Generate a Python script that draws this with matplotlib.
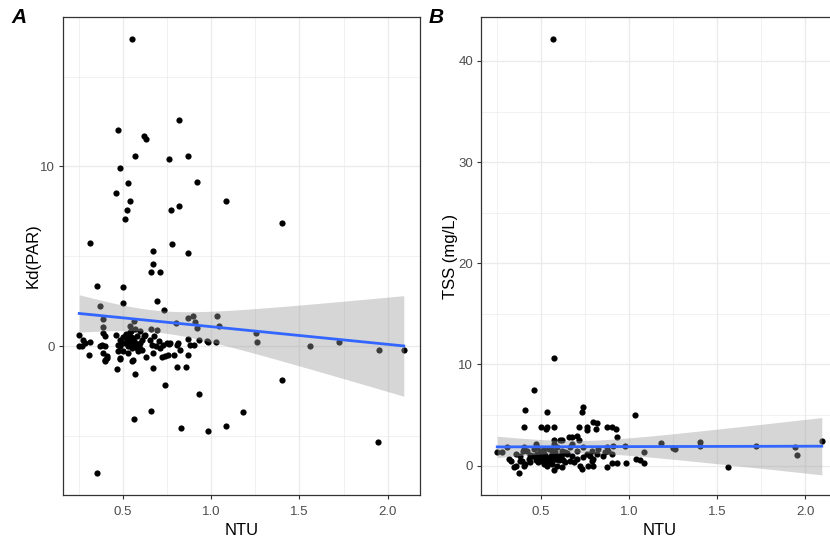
import numpy as np
import matplotlib
matplotlib.use("Agg")
import matplotlib.pyplot as plt
from matplotlib.ticker import FixedLocator

plt.rcParams['font.family'] = ['Liberation Sans', 'DejaVu Sans']

# ---------------- Panel A data: NTU vs Kd(PAR) ----------------
ntu_a = [0.551, 0.82, 0.472, 0.62, 0.632, 0.571, 0.762, 0.871, 0.483, 0.532,
         0.922, 0.462, 0.541, 1.083, 0.523, 0.773, 0.82, 0.513, 1.402, 0.313,
         0.672, 0.781, 0.871, 0.673, 0.66, 0.711, 0.353, 0.502, 0.502, 0.692,
         0.371, 0.734,
         0.39, 0.39, 0.564, 0.541, 0.57, 0.802, 0.871, 0.9, 0.909, 0.922,
         1.032, 1.044, 1.253, 1.262, 1.562, 1.723, 1.951, 2.091, 0.981, 0.934,
         0.902, 0.871, 0.871, 0.881, 0.806, 0.815, 0.824, 0.792, 0.753, 0.723,
         0.74, 0.764, 0.749, 0.73, 0.711, 0.702, 0.688, 0.679, 0.66, 0.692,
         0.626, 0.617, 0.655, 0.664, 0.67, 0.632, 0.673, 0.804, 0.855, 0.469,
         0.571, 0.483, 0.401, 0.409, 0.39, 0.311, 0.253, 0.253, 0.277, 0.268,
         0.287, 0.315, 0.371, 0.381, 0.4, 0.39, 0.4, 0.409, 0.4, 0.462,
         0.485, 0.503, 0.513, 0.523, 0.532, 0.541, 0.551, 0.56, 0.57, 0.579,
         0.588, 0.598, 0.608, 0.598, 0.485, 0.475, 0.475, 0.485, 0.56, 0.553,
         0.532, 0.503, 0.768, 0.976, 1.03, 0.532, 0.547,
         0.52, 0.545, 0.58, 0.565, 0.59, 0.61, 0.55, 0.54, 0.6, 0.495,
         0.741, 0.934, 1.402, 1.179, 0.66, 0.564, 0.832, 0.981, 1.083, 1.944,
         0.353]
kd = [17.1, 12.6, 12.0, 11.7, 11.5, 10.6, 10.4, 10.6, 9.9, 9.1,
      9.15, 8.5, 8.1, 8.1, 7.6, 7.6, 7.8, 7.1, 6.85, 5.75,
      5.3, 5.7, 5.2, 4.6, 4.15, 4.15, 3.35, 3.3, 2.4, 2.5,
      2.25, 2.0,
      1.5, 1.1, 1.4, 1.15, 0.97, 1.3, 1.6, 1.7, 1.35, 1.0,
      1.7, 1.15, 0.72, 0.22, 0.0, 0.22, -0.2, -0.18, 0.24, 0.37,
      0.08, -0.46, 0.44, 0.09, 0.08, 0.19, -0.19, -0.46, -0.46, -0.61,
      -0.56, 0.15, 0.19, 0.09, -0.09, 0.28, 0.0, 0.56, 0.97, 0.93,
      0.65, 0.56, 0.37, 0.09, -0.37, -0.59, -1.2, -1.17, -1.15, -1.28,
      -1.56, -0.7, -0.78, -0.56, -0.37, -0.48, 0.65, 0.05, 0.37, 0.0,
      0.19, 0.22, 0.04, 0.09, 0.0, 0.74, 0.56, -0.65, -0.83, 0.65,
      0.37, 0.53, 0.19, 0.37, 0.0, 0.28, 0.09, 0.46, 0.19, -0.09,
      -0.28, 0.19, 0.37, -0.15, 0.0, 0.09, -0.28, -0.65, -0.74, -0.79,
      -0.37, -0.28, 0.19, 0.28, 0.22, 0.65, 0.83,
      0.7, 0.55, 0.6, 0.3, 0.05, -0.2, -0.1, 0.8, 0.85, 0.2,
      -2.15, -2.63, -1.87, -3.63, -3.59, -4.02, -4.54, -4.68, -4.42, -5.3,
      -7.05]

# ---------------- Panel B data: NTU vs TSS (mg/L) ----------------
ntu_b = [0.57, 0.571, 0.462, 0.411, 0.532, 0.741, 0.732, 1.034, 0.404, 0.502,
         0.53, 0.534, 0.571, 0.715, 0.707, 0.76, 0.798, 0.817, 0.81, 0.874,
         0.902, 0.925, 0.932, 0.762, 0.66, 0.675, 0.571, 0.619, 0.473, 1.181,
         1.26, 1.25, 1.402, 1.402, 1.723, 1.944, 1.953, 2.095, 1.562, 1.085,
         1.085, 1.04, 1.062, 0.983, 0.977, 0.93, 0.902, 0.874,
         0.251, 0.279, 0.307, 0.317, 0.36, 0.373, 0.349, 0.401, 0.392, 0.379,
         0.398, 0.43, 0.458, 0.477, 0.496, 0.506, 0.515, 0.534, 0.562, 0.571,
         0.619, 0.581, 0.6, 0.619, 0.638, 0.647, 0.676, 0.685, 0.723, 0.732,
         0.741, 0.76, 0.779, 0.789, 0.798, 0.817, 0.826, 0.854, 0.864, 0.874,
         0.883, 0.902, 0.911, 0.666, 0.676, 0.713, 0.609, 0.571, 0.543, 0.515,
         0.477, 0.458, 0.421, 0.401, 0.789, 0.704, 0.741, 0.496, 0.562, 0.59,
         0.383, 0.411, 0.439, 0.553, 0.59, 0.638, 0.666, 0.704, 0.769, 0.798,
         0.52, 0.55, 0.58, 0.6, 0.53, 0.56, 0.5, 0.62, 0.54, 0.51,
         0.45, 0.47, 0.49, 0.52, 0.545, 0.565, 0.585, 0.605, 0.625, 0.645,
         0.48, 0.51, 0.555, 0.575, 0.615, 0.44, 0.36, 0.33]
tss = [42.2, 10.6, 7.43, 5.54, 5.25, 5.77, 5.28, 5.05, 3.86, 3.86,
       3.63, 3.86, 3.86, 3.86, 2.9, 3.86, 4.29, 4.19, 3.6, 3.86,
       3.86, 3.63, 2.8, 3.47, 2.8, 2.8, 2.48, 2.48, 2.15, 2.21,
       1.65, 1.7, 2.31, 1.98, 1.95, 1.81, 1.09, 2.44, -0.17, 1.32,
       0.23, 0.66, 0.59, 0.23, 1.98, 0.26, 0.23, -0.1,
       1.32, 1.32, 1.81, 0.66, 0.0, -0.76, -0.17, 0.0, 0.5, 0.99,
       1.49, 0.66, 0.99, 1.16, 0.99, 0.5, 0.17, 0.0, 0.17, -0.43,
       -0.17, 0.66, 0.99, 1.49, 1.32, 1.16, 0.99, 0.33, 0.0, -0.33,
       0.82, 1.16, 0.99, 0.5, 0.66, 1.16, 1.65, 0.99, 1.32, 1.81,
       1.49, 1.16, 1.98, 1.81, 2.15, 2.48, 2.48, 2.15, 1.65, 1.65,
       1.81, 1.65, 1.49, 1.81, 1.49, 1.49, 1.81, 1.49, 1.16, 1.81,
       0.5, 0.17, 0.33, 0.5, 0.0, 0.33, 0.5, 0.66, 0.0, 0.0,
       1.0, 0.8, 1.3, 0.6, 0.4, 1.5, 0.7, 1.1, 0.3, 1.2,
       0.9, 0.6, 1.1, 0.8, 0.5, 1.0, 0.7, 0.9, 0.6, 1.2,
       0.4, 1.3, 0.6, 0.9, 0.8, 1.0, 1.1, 0.5]

x_ticks = [0.5, 1.0, 1.5, 2.0]
x_minor = [0.25, 0.75, 1.25, 1.75]
a_yticks = [0, 10]
a_yminor = [-5, 5, 15]
b_yticks = [0, 10, 20, 30, 40]
b_yminor = [5, 15, 25, 35]

W, H = 830, 539
fig = plt.figure(figsize=(W / 100, H / 100), dpi=100)


def lm_band(x, y, xs):
    x = np.asarray(x, float)
    y = np.asarray(y, float)
    n = len(x)
    b1, b0 = np.polyfit(x, y, 1)
    yhat = b0 + b1 * xs
    resid = y - (b0 + b1 * x)
    s = np.sqrt(np.sum(resid ** 2) / (n - 2))
    sxx = np.sum((x - x.mean()) ** 2)
    se = s * np.sqrt(1.0 / n + (xs - x.mean()) ** 2 / sxx)
    return yhat, 1.978 * se


def expand(v):
    lo, hi = min(v), max(v)
    d = (hi - lo) * 0.05
    return lo - d, hi + d


def panel(rect, x, y, yt, ym, ylabel, letter, letter_x):
    ax = fig.add_axes(rect)
    ax.set_facecolor('white')
    ax.set_xlim(*expand(x))
    ax.set_ylim(*expand(y))
    for v in x_minor:
        ax.axvline(v, color='#EBEBEB', lw=0.5, zorder=0)
    for v in ym:
        ax.axhline(v, color='#EBEBEB', lw=0.5, zorder=0)
    for v in x_ticks:
        ax.axvline(v, color='#EBEBEB', lw=1.0, zorder=0)
    for v in yt:
        ax.axhline(v, color='#EBEBEB', lw=1.0, zorder=0)
    ax.scatter(x, y, s=20, color='black', linewidths=0, zorder=2)
    xs = np.linspace(min(x), max(x), 200)
    yhat, ci = lm_band(x, y, xs)
    ax.fill_between(xs, yhat - ci, yhat + ci, color='#999999', alpha=0.4,
                    linewidth=0, zorder=3)
    ax.plot(xs, yhat, color='#3366FF', lw=2.0, zorder=4)
    ax.xaxis.set_major_locator(FixedLocator(x_ticks))
    ax.yaxis.set_major_locator(FixedLocator(yt))
    ax.set_xticklabels([f"{v:.1f}" for v in x_ticks])
    ax.set_yticklabels([str(v) for v in yt])
    ax.tick_params(length=3.2, width=0.8, color='#333333', labelcolor='#4D4D4D',
                   labelsize=9.5)
    ax.tick_params(axis='x', pad=4.5)
    ax.tick_params(axis='y', pad=2.5)
    for sp in ax.spines.values():
        sp.set_color('#333333')
        sp.set_linewidth(0.9)
        sp.set_zorder(5)
    ax.set_xlabel('NTU', fontsize=12, labelpad=4)
    ax.set_ylabel(ylabel, fontsize=12, labelpad=0)
    fig.text(letter_x / W, 1 - 17.5 / H, letter, fontsize=15, fontweight='bold',
             fontstyle='italic', ha='left', va='center')
    return ax


bottom = (H - 495) / H
height = (495 - 17) / H
width = 357 / W
panel([63 / W, bottom, width, height], ntu_a, kd, a_yticks, a_yminor,
      'Kd(PAR)', 'A', 11)
panel([481 / W, bottom, width, height], ntu_b, tss, b_yticks, b_yminor,
      'TSS (mg/L)', 'B', 429)

fig.savefig('out.png', dpi=100, facecolor='white')
